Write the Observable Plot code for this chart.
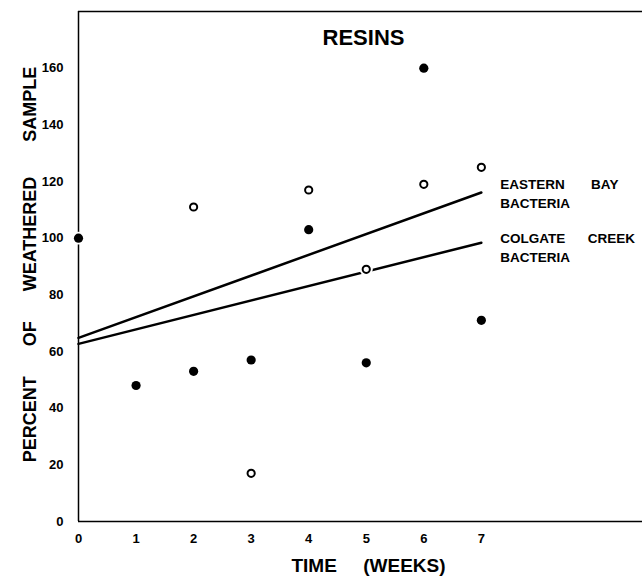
<!DOCTYPE html>
<html><head><meta charset="utf-8">
<script src="https://cdn.jsdelivr.net/npm/d3@7"></script>
<script src="https://cdn.jsdelivr.net/npm/@observablehq/plot@0.6"></script>
<style>body{margin:0;background:#fff}</style>
</head><body><div id="chart"></div>
<script>
const title = "RESINS";
const xLabel = "TIME\u00a0\u00a0\u00a0\u00a0\u00a0(WEEKS)";
const yLabel = "PERCENT\u00a0\u00a0\u00a0\u00a0\u00a0\u00a0OF\u00a0\u00a0\u00a0\u00a0\u00a0\u00a0WEATHERED\u00a0\u00a0\u00a0\u00a0\u00a0\u00a0\u00a0SAMPLE";
const xTicks = [0,1,2,3,4,5,6,7];
const yTicks = [0,20,40,60,80,100,120,140,160];
const filledWeeks = [0,1,2,3,4,5,6,7];
const filledValues = [100,48,53,57,103,56,160,71];
const openWeeks = [2,3,4,5,6,7];
const openValues = [111,17,117,89,119,125];
const fitWeeks = [0,7];
const easternFit = [64.8,116.1];
const colgateFit = [62.7,98.4];
const seriesNames = ["EASTERN\u00a0\u00a0\u00a0\u00a0\u00a0\u00a0\u00a0BAY\nBACTERIA", "COLGATE\u00a0\u00a0\u00a0\u00a0\u00a0\u00a0CREEK\nBACTERIA"];

const filled = filledWeeks.map((w,i)=>({x:w, y:filledValues[i]}));
const open = openWeeks.map((w,i)=>({x:w, y:openValues[i]}));
const eastern = fitWeeks.map((w,i)=>({x:w, y:easternFit[i]}));
const colgate = fitWeeks.map((w,i)=>({x:w, y:colgateFit[i]}));
const labels = [
  {x:fitWeeks[1], y:easternFit[1], t:seriesNames[0]},
  {x:fitWeeks[1], y:colgateFit[1], t:seriesNames[1]}
];

const chart = Plot.plot({
  width:642, height:577,
  marginLeft:78, marginRight:0, marginTop:11, marginBottom:56,
  x:{domain:[0,9.8]},
  y:{domain:[0,180]},
  style:{fontFamily:"'Liberation Sans', Arial, sans-serif", background:"#fff", color:"#000"},
  marks:[
    Plot.ruleY([0,180], {stroke:"#000", strokeWidth:1.5}),
    Plot.ruleX([0], {stroke:"#000", strokeWidth:1.5}),
    Plot.axisX({ticks:xTicks, tickSize:0, tickPadding:12, fontSize:13, fontWeight:"bold", label:null}),
    Plot.axisY({ticks:yTicks, tickSize:0, tickPadding:15, fontSize:13, fontWeight:"bold", label:null}),
    Plot.line(eastern, {x:"x", y:"y", stroke:"#000", strokeWidth:2.5}),
    Plot.line(colgate, {x:"x", y:"y", stroke:"#000", strokeWidth:2.5}),
    Plot.dot(open, {x:"x", y:"y", r:6.5, fill:"#fff", stroke:"none"}),
    Plot.dot(open, {x:"x", y:"y", r:3.6, fill:"#fff", stroke:"#000", strokeWidth:2}),
    Plot.dot(filled, {x:"x", y:"y", r:4.6, fill:"#000", stroke:"#fff", strokeWidth:3.5, paintOrder:"stroke"}),
    Plot.text(labels.slice(0,1), {x:"x", y:"y", text:"t", dx:19, dy:0, textAnchor:"start", lineAnchor:"middle", lineHeight:1.38, fontSize:13.5, fontWeight:"bold"}),
    Plot.text(labels.slice(1), {x:"x", y:"y", text:"t", dx:19, dy:4, textAnchor:"start", lineAnchor:"middle", lineHeight:1.38, fontSize:13.5, fontWeight:"bold"}),
    Plot.text([title], {frameAnchor:"top", dx:3, dy:26, textAnchor:"middle", lineAnchor:"middle", fontSize:22, fontWeight:"bold"}),
    Plot.text([xLabel], {frameAnchor:"bottom", dx:8, dy:44, textAnchor:"middle", lineAnchor:"middle", fontSize:19, fontWeight:"bold"}),
    Plot.text([yLabel], {frameAnchor:"left", dx:-48, dy:-2, rotate:-90, textAnchor:"middle", lineAnchor:"middle", fontSize:18, fontWeight:"bold"})
  ]
});
document.getElementById("chart").append(chart);
</script>
</body></html>
